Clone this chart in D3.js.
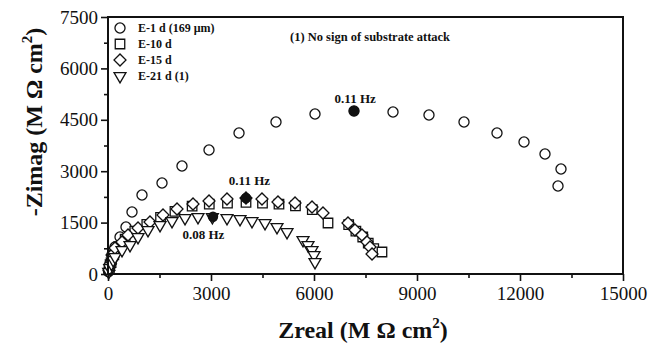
<!DOCTYPE html>
<html>
<head>
<meta charset="utf-8">
<script src="https://cdn.jsdelivr.net/npm/d3@7"></script>
<style>
  html, body { margin: 0; padding: 0; background: #fff; }
  svg { display: block; }
  text { font-family: "Liberation Serif", "Times New Roman", serif; fill: #111; }
</style>
</head>
<body>
<svg id="chart" width="659" height="347"></svg>
<script>
// Nyquist data: [Zreal, -Zimag] in MΩ cm²
const e1d = [
  [15, 70], [35, 190], [60, 330], [117, 560], [204, 788], [350, 1080], [524, 1372],
  [699, 1809], [990, 2305], [1573, 2656], [2155, 3152], [2942, 3619], [3816, 4115],
  [4893, 4436], [6029, 4669], [7165, 4757], [8301, 4728], [9349, 4640], [10369, 4436],
  [11330, 4115], [12117, 3852], [12728, 3502], [13194, 3064], [13107, 2568]
];
const e10d = [
  [40, 150], [90, 330], [170, 560], [310, 800], [500, 1020], [780, 1250], [1130, 1450],
  [1530, 1650], [1950, 1830], [2450, 1980], [2950, 2040], [3480, 2070], [4020, 2090],
  [4500, 2070], [4980, 2040], [5460, 1990], [5950, 1880], [6408, 1488], [7010, 1440],
  [7220, 1250], [7420, 1080], [7580, 900], [7740, 740], [7980, 642]
];
const e15d = [
  [30, 110], [70, 300], [117, 554], [204, 759], [408, 934], [583, 1138], [874, 1342],
  [1223, 1517], [1602, 1722], [2010, 1897], [2476, 2043], [2942, 2130], [3466, 2189],
  [4019, 2218], [4485, 2189], [4951, 2101], [5447, 2072], [5942, 1955], [6262, 1780],
  [6990, 1488], [7194, 1284], [7398, 1138], [7544, 934], [7631, 788], [7690, 584]
];
const e21d = [
  [20, 60], [50, 170], [100, 300], [150, 410], [204, 496], [408, 700], [641, 846],
  [874, 1080], [1165, 1284], [1515, 1430], [1864, 1547], [2243, 1634], [2621, 1663],
  [3040, 1663], [3466, 1634], [3845, 1605], [4194, 1547], [4573, 1488], [4922, 1372],
  [5214, 1226], [5680, 992], [5825, 846], [5942, 700], [6000, 554], [6029, 350]
];
// Characteristic-frequency points (filled) and their labels
const freqPoints = [[7165, 4757], [4019, 2218], [3058, 1670]];
const freqLabels = ["0.11 Hz", "0.11 Hz", "0.08 Hz"];
const freqLabelPos = [[7200, 5000], [4120, 2600], [2780, 1030]];

const seriesNames = ["E-1 d (169 μm)", "E-10 d", "E-15 d", "E-21 d (1)"];
const xTicks = [0, 3000, 6000, 9000, 12000, 15000];
const yTicks = [0, 1500, 3000, 4500, 6000, 7500];
const note = "(1) No sign of substrate attack";

const svg = d3.select("#chart");
const pL = 108, pR = 623, pT = 17, pB = 274;

const x = d3.scaleLinear().domain([0, 15000]).range([pL, pR]);
const y = d3.scaleLinear().domain([0, 7500]).range([pB, pT]);

// Marker shapes
const shapes = {
  circle: d3.symbol().type(d3.symbolCircle).size(80)(),
  square: d3.symbol().type(d3.symbolSquare).size(90)(),
  diamond: d3.symbol().type(d3.symbolSquare).size(72)(),
  triangle: d3.symbol().type(d3.symbolTriangle).size(62)()
};
const rot = { circle: 0, square: 0, diamond: 45, triangle: 180 };
const kinds = ["circle", "square", "diamond", "triangle"];
const allSeries = [e1d, e10d, e15d, e21d];

function drawMarker(g, kind, px, py) {
  g.append("path")
    .attr("d", shapes[kind])
    .attr("transform", `translate(${px},${py}) rotate(${rot[kind]})`)
    .attr("fill", "#fff")
    .attr("stroke", "#111")
    .attr("stroke-width", 1.3);
}

// Data markers
const plot = svg.append("g");
allSeries.forEach((data, i) => {
  const g = plot.append("g");
  data.forEach(d => drawMarker(g, kinds[i], x(d[0]), y(d[1])));
});

// Filled frequency markers
plot.selectAll("circle.freq").data(freqPoints).enter().append("circle")
  .attr("class", "freq")
  .attr("cx", d => x(d[0])).attr("cy", d => y(d[1])).attr("r", 5.2)
  .attr("fill", "#111");
plot.selectAll("text.freq").data(freqLabelPos).enter().append("text")
  .attr("class", "freq")
  .attr("x", d => x(d[0])).attr("y", d => y(d[1]))
  .attr("text-anchor", "middle")
  .attr("font-size", 13).attr("font-weight", "bold")
  .text((d, i) => freqLabels[i]);

// Axes
const xAxis = d3.axisBottom(x).tickValues(xTicks).tickFormat(d3.format("d")).tickSize(7).tickPadding(6);
const yAxis = d3.axisLeft(y).tickValues(yTicks).tickFormat(d3.format("d")).tickSize(7).tickPadding(3);
const xMinor = d3.axisBottom(x).tickValues(d3.range(1500, 15000, 3000)).tickFormat("").tickSize(4);
const yMinor = d3.axisLeft(y).tickValues(d3.range(750, 7500, 1500)).tickFormat("").tickSize(4);

function styleAxis(g) {
  g.select(".domain").remove();
  g.selectAll("line").attr("stroke", "#111").attr("stroke-width", 1.6);
  g.selectAll("text").attr("font-size", 19).attr("fill", "#111")
    .style("font-family", "Liberation Serif, serif");
}
svg.append("g").attr("transform", `translate(0,${pB})`).call(xAxis).call(styleAxis);
svg.append("g").attr("transform", `translate(0,${pB})`).call(xMinor).call(styleAxis);
svg.append("g").attr("transform", `translate(${pL},0)`).call(yAxis).call(styleAxis);
svg.append("g").attr("transform", `translate(${pL},0)`).call(yMinor).call(styleAxis);

// Frame
svg.append("rect")
  .attr("x", pL).attr("y", pT)
  .attr("width", pR - pL).attr("height", pB - pT)
  .attr("fill", "none").attr("stroke", "#111").attr("stroke-width", 2);

// Axis titles
const xt = svg.append("text")
  .attr("x", 363).attr("y", 338)
  .attr("text-anchor", "middle")
  .attr("font-size", 24).attr("font-weight", "bold");
xt.append("tspan").text("Zreal  (M Ω cm");
xt.append("tspan").attr("dy", -10).attr("font-size", 15).text("2");
xt.append("tspan").attr("dy", 10).text(")");

const yt = svg.append("text")
  .attr("transform", "translate(42,122) rotate(-90)")
  .attr("text-anchor", "middle")
  .attr("font-size", 24).attr("font-weight", "bold");
yt.append("tspan").text("-Zimag (M Ω cm");
yt.append("tspan").attr("dy", -10).attr("font-size", 15).text("2");
yt.append("tspan").attr("dy", 10).text(")");

// Legend
const legend = svg.append("g");
seriesNames.forEach((name, i) => {
  const ly = 28 + i * 16;
  drawMarker(legend, kinds[i], 120, ly);
  legend.append("text")
    .attr("x", 138).attr("y", ly + 4)
    .attr("font-size", 12).attr("font-weight", "bold")
    .text(name);
});

// Note
svg.append("text")
  .attr("x", 290).attr("y", 41)
  .attr("font-size", 12.5).attr("font-weight", "bold")
  .text(note);
</script>
</body>
</html>
